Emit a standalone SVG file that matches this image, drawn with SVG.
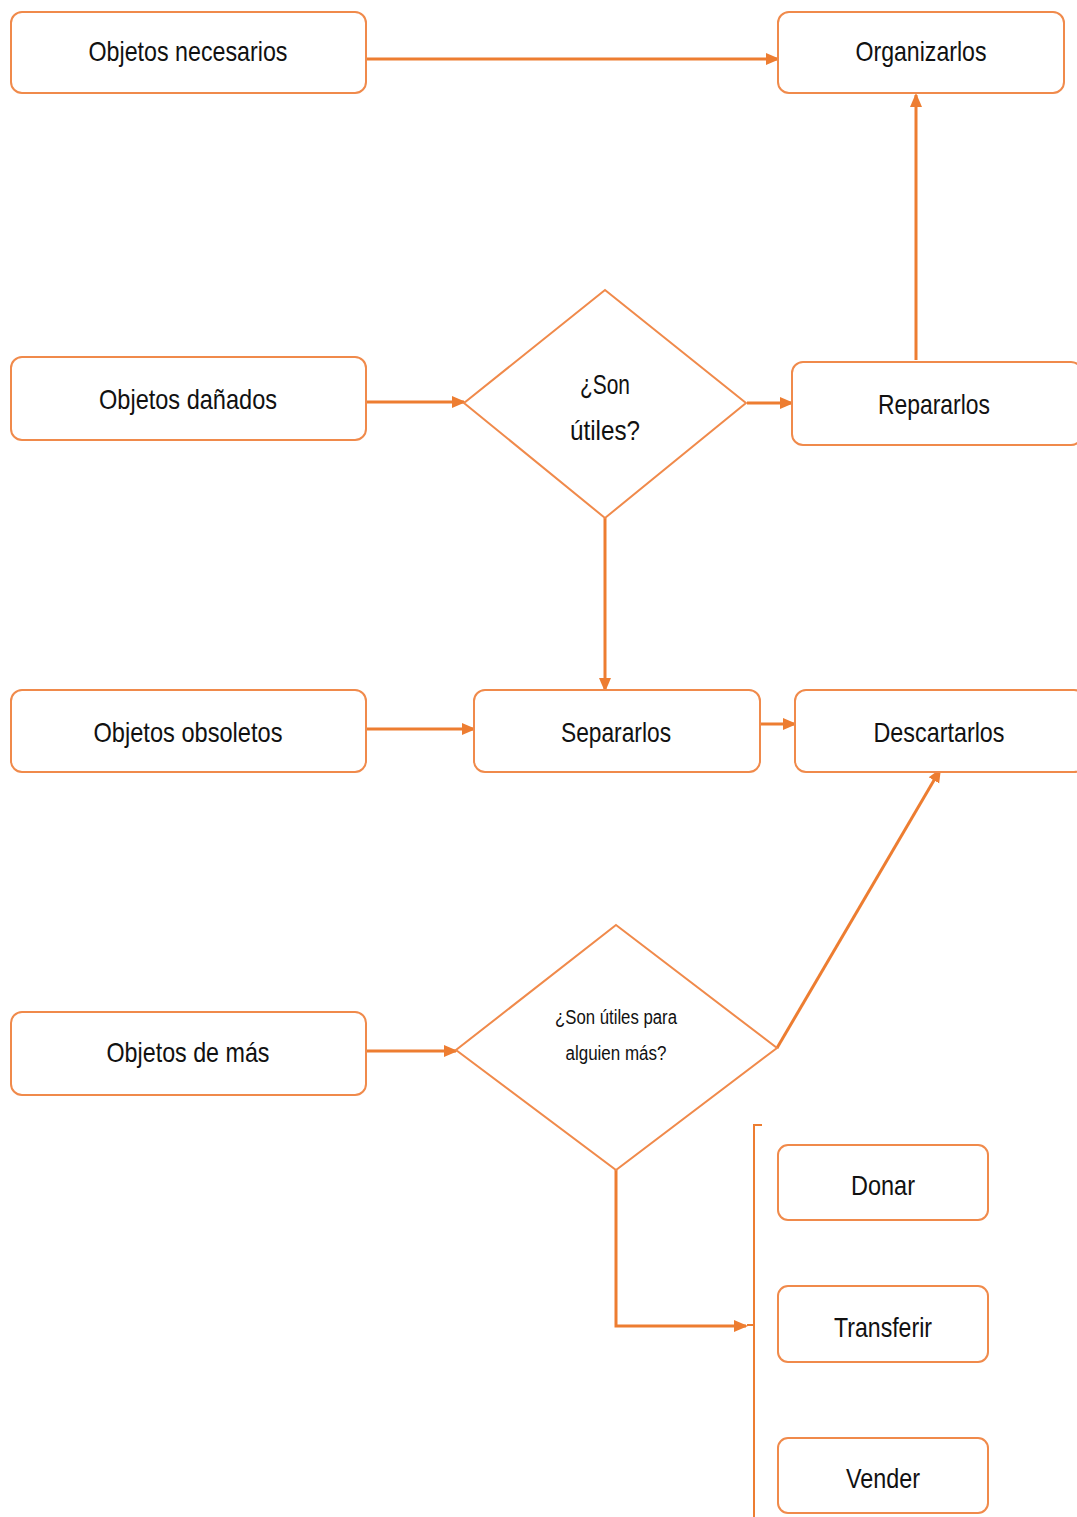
<svg xmlns="http://www.w3.org/2000/svg" width="1077" height="1517" viewBox="0 0 1077 1517">
<style>
.box{fill:#fff;stroke:#F08A4B;stroke-width:2}
.dia{fill:#fff;stroke:#F08A4B;stroke-width:2}
.t{font-family:"Liberation Sans","Noto Sans",sans-serif;font-size:28px;fill:#111;text-anchor:middle}
.s{font-size:20px}
.c{fill:none;stroke:#ED7D31;stroke-width:3}
.b{fill:none;stroke:#ED7D31;stroke-width:2}
</style>
<defs>
<marker id="ah" markerWidth="14" markerHeight="14" refX="12" refY="7" orient="auto" markerUnits="userSpaceOnUse">
<path d="M0,1 L14,7 L0,13 Z" fill="#ED7D31"/>
</marker>
</defs>
<g id="connectors">
<line class="c" x1="366" y1="59" x2="778" y2="59" marker-end="url(#ah)"/>
<line class="c" x1="366" y1="402" x2="464" y2="402" marker-end="url(#ah)"/>
<line class="c" x1="747" y1="403" x2="792" y2="403" marker-end="url(#ah)"/>
<line class="c" x1="916" y1="360" x2="916" y2="95" marker-end="url(#ah)"/>
<line class="c" x1="605" y1="518" x2="605" y2="690" marker-end="url(#ah)"/>
<line class="c" x1="366" y1="729" x2="474" y2="729" marker-end="url(#ah)"/>
<line class="c" x1="760" y1="724" x2="795" y2="724" marker-end="url(#ah)"/>
<line class="c" x1="366" y1="1051" x2="456" y2="1051" marker-end="url(#ah)"/>
<line class="c" x1="777" y1="1048" x2="940" y2="770" marker-end="url(#ah)"/>
<polyline class="c" points="616,1170 616,1326 746,1326" marker-end="url(#ah)"/>
<path class="b" d="M762,1125 L754,1125 L754,1517 M754,1325 L747,1325"/>
</g>
<g id="n1"><rect class="box" x="11" y="12" width="355" height="81" rx="11"/><text class="t" x="188" y="61" textLength="199" lengthAdjust="spacingAndGlyphs">Objetos necesarios</text></g>
<g id="n2"><rect class="box" x="778" y="12" width="286" height="81" rx="11"/><text class="t" x="921" y="61" textLength="131" lengthAdjust="spacingAndGlyphs">Organizarlos</text></g>
<g id="n3"><rect class="box" x="11" y="357" width="355" height="83" rx="11"/><text class="t" x="188" y="409" textLength="178" lengthAdjust="spacingAndGlyphs">Objetos dañados</text></g>
<g id="d1"><polygon class="dia" points="605,290 746,403 605,518 464,403"/><text class="t" x="605" y="394" textLength="50" lengthAdjust="spacingAndGlyphs">¿Son</text><text class="t" x="605" y="440" textLength="70" lengthAdjust="spacingAndGlyphs">útiles?</text></g>
<g id="n4"><rect class="box" x="792" y="362" width="290" height="83" rx="11"/><text class="t" x="934" y="414" textLength="112" lengthAdjust="spacingAndGlyphs">Repararlos</text></g>
<g id="n5"><rect class="box" x="11" y="690" width="355" height="82" rx="11"/><text class="t" x="188" y="742" textLength="189" lengthAdjust="spacingAndGlyphs">Objetos obsoletos</text></g>
<g id="n6"><rect class="box" x="474" y="690" width="286" height="82" rx="11"/><text class="t" x="616" y="742" textLength="110" lengthAdjust="spacingAndGlyphs">Separarlos</text></g>
<g id="n7"><rect class="box" x="795" y="690" width="290" height="82" rx="11"/><text class="t" x="939" y="742" textLength="131" lengthAdjust="spacingAndGlyphs">Descartarlos</text></g>
<g id="n8"><rect class="box" x="11" y="1012" width="355" height="83" rx="11"/><text class="t" x="188" y="1062" textLength="163" lengthAdjust="spacingAndGlyphs">Objetos de más</text></g>
<g id="d2"><polygon class="dia" points="616,925 777,1048 616,1170 456,1050"/><text class="t s" x="616" y="1024" textLength="122" lengthAdjust="spacingAndGlyphs">¿Son útiles para</text><text class="t s" x="616" y="1060" textLength="101" lengthAdjust="spacingAndGlyphs">alguien más?</text></g>
<g id="n9"><rect class="box" x="778" y="1145" width="210" height="75" rx="10"/><text class="t" x="883" y="1195" textLength="64" lengthAdjust="spacingAndGlyphs">Donar</text></g>
<g id="n10"><rect class="box" x="778" y="1286" width="210" height="76" rx="10"/><text class="t" x="883" y="1337" textLength="98" lengthAdjust="spacingAndGlyphs">Transferir</text></g>
<g id="n11"><rect class="box" x="778" y="1438" width="210" height="75" rx="10"/><text class="t" x="883" y="1488" textLength="74" lengthAdjust="spacingAndGlyphs">Vender</text></g>
</svg>
